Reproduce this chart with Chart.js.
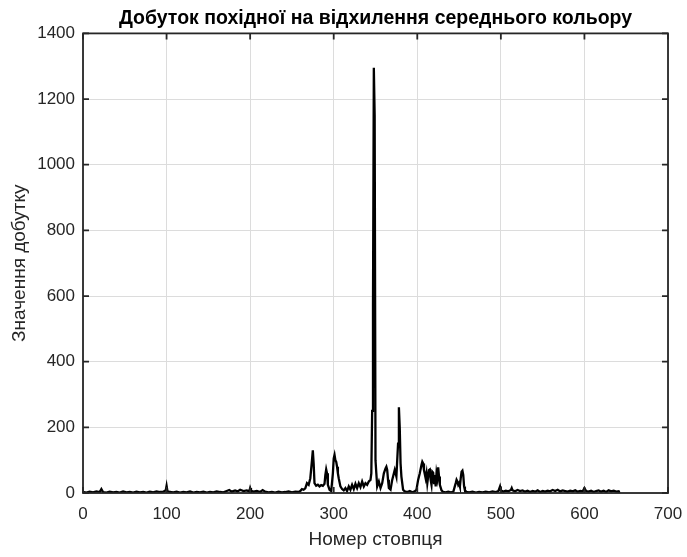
<!DOCTYPE html>
<html>
<head>
<meta charset="utf-8">
<script src="https://cdn.jsdelivr.net/npm/chart.js@4.4.1/dist/chart.umd.min.js"></script>
<style>
  html, body { margin: 0; padding: 0; background: #fff; }
  #wrap { width: 687px; height: 557px; }
</style>
</head>
<body>
<div id="wrap"><canvas id="productChart" width="687" height="557"></canvas></div>
<script>
// column index (x) and product value (y)
const columns = [
  1, 4, 8, 12, 16, 20, 22, 24, 28, 32, 36, 40, 44, 48, 52, 56, 60, 64, 68, 72, 76, 80, 84, 88, 92, 96, 99, 100, 101, 104,
  108, 112, 116, 120, 124, 128, 132, 136, 140, 144, 148, 152, 156, 160, 164, 168, 172, 175, 178, 182, 185, 188, 192, 196, 199, 200, 201, 204, 208, 212, 215, 218, 222, 226, 230, 234, 238, 242, 246, 250, 254, 258,
  260, 262, 264, 266, 268, 270, 272, 274, 275, 276, 277, 279, 281, 283, 285, 287, 289, 290, 291, 292, 293, 295, 297, 299, 300, 301, 302, 303, 304, 305, 306, 308, 310, 312, 314, 316, 318, 320, 322, 324, 326, 328, 330, 332, 334, 336, 338, 340, 342, 344, 345,
  346, 347, 348, 349, 350, 351, 352, 354, 356, 358, 360, 362, 363, 364, 365, 366, 368, 370, 372, 373, 375, 377, 378, 379, 380, 381, 383, 385, 388, 391, 394, 397, 399,
  401, 403, 405, 406, 407, 408, 410, 411, 412, 414, 415, 416, 417, 418, 419, 420, 421, 422, 423, 424, 425, 426, 427, 429, 431, 434, 437, 440, 443, 446, 447, 448, 449, 450, 451, 452, 453, 454, 455, 456, 457, 459,
  462, 466, 470, 474, 478, 482, 486, 490, 494, 497, 499, 500, 503, 506, 509, 512, 513, 514, 517, 520, 523, 526, 529, 532, 535, 538, 541, 544, 547, 550, 553, 556, 559, 562, 565, 568, 571, 574, 577, 580, 583, 586, 589, 592, 595, 598, 600, 602, 605, 608, 611, 614, 617, 620, 623, 626, 629, 632, 635, 638, 641, 642
];
const productValues = [
  3, 1, 4, 2, 5, 3, 12, 3, 1, 4, 2, 3, 1, 5, 2, 3, 1, 4, 2, 3, 1, 4, 2, 5, 3, 4, 8, 22, 6, 3,
  2, 4, 1, 3, 2, 5, 1, 3, 2, 4, 1, 3, 2, 5, 3, 2, 6, 9, 4, 8, 5, 10, 6, 8, 5, 15, 7, 4, 6, 3, 9, 4, 2, 3, 1, 4, 2, 3, 5, 2, 4, 3,
  6, 12, 10, 14, 30, 25, 45, 100, 130, 90, 30, 22, 25, 20, 24, 22, 28, 55, 72, 60, 25, 10, 6, 60, 105, 116, 100, 95, 80, 60, 45, 20, 12, 8, 15, 6, 20, 10, 25, 12, 28, 15, 30, 18, 35, 20, 30, 25, 35, 40, 60,
  250, 570, 1295, 1150, 100, 60, 20, 35, 15, 30, 60, 75, 80, 70, 40, 15, 10, 40, 60, 70, 50, 150, 261, 200, 90, 50, 10, 5, 3, 6, 2, 5, 10,
  40, 60, 85, 95, 90, 70, 45, 60, 30, 70, 72, 40, 25, 65, 62, 30, 55, 20, 60, 45, 78, 50, 25, 8, 3, 2, 4, 2, 3, 30, 40, 35, 25, 30, 20, 45, 65, 68, 55, 20, 8, 3,
  2, 4, 1, 3, 2, 4, 2, 5, 3, 6, 20, 8, 4, 7, 5, 9, 15, 8, 5, 9, 6, 8, 4, 7, 3, 6, 4, 8, 3, 6, 4, 7, 5, 9, 6, 10, 5, 8, 6, 4, 7, 5, 8, 4, 6, 5, 15, 6, 4, 7, 3, 6, 8, 4, 7, 3, 8, 5, 7, 4, 5, 0
];
const xTicks = [0, 100, 200, 300, 400, 500, 600, 700];
const yTicks = [0, 200, 400, 600, 800, 1000, 1200, 1400];

const chartTitle = 'Добуток похідної на відхилення середнього кольору';
const xTitle = 'Номер стовпця';
const yTitle = 'Значення добутку';

const FONT = "'Liberation Sans', Arial, sans-serif";
const AXIS_COLOR = '#262626';

// MATLAB-like box with inward ticks on all four sides
const boxPlugin = {
  id: 'box',
  afterDraw(chart) {
    const { ctx, chartArea: a, scales: { x, y } } = chart;
    ctx.save();
    ctx.strokeStyle = AXIS_COLOR;
    ctx.lineWidth = 1.8;
    ctx.strokeRect(a.left, a.top, a.right - a.left, a.bottom - a.top);
    ctx.beginPath();
    xTicks.forEach(v => {
      const px = x.getPixelForValue(v);
      ctx.moveTo(px, a.bottom); ctx.lineTo(px, a.bottom - 6);
      ctx.moveTo(px, a.top); ctx.lineTo(px, a.top + 6);
    });
    yTicks.forEach(v => {
      const py = y.getPixelForValue(v);
      ctx.moveTo(a.left, py); ctx.lineTo(a.left + 6, py);
      ctx.moveTo(a.right, py); ctx.lineTo(a.right - 6, py);
    });
    ctx.stroke();
    ctx.restore();
  }
};

const ctx = document.getElementById('productChart').getContext('2d');
const productChart = new Chart(ctx, {
  type: 'line',
  data: {
    datasets: [{
      data: columns.map((c, i) => ({ x: c, y: productValues[i] })),
      borderColor: '#000',
      borderWidth: 2.3,
      pointRadius: 0,
      tension: 0,
      fill: false
    }]
  },
  options: {
    responsive: false,
    animation: false,
    events: [],
    layout: { padding: { left: 0, right: 19, top: 0, bottom: 0 } },
    plugins: {
      legend: { display: false },
      tooltip: { enabled: false },
      title: {
        display: true, text: chartTitle, fullSize: false, color: '#000',
        font: { family: FONT, size: 19.5, weight: 'bold' },
        lineHeight: 1.2,
        padding: { top: 7, bottom: 3 }
      }
    },
    scales: {
      x: {
        type: 'linear', min: 0, max: 700,
        afterBuildTicks: s => { s.ticks = xTicks.map(v => ({ value: v })); },
        afterFit: s => { s.height = 64; s.paddingLeft = 0; s.paddingRight = 0; },
        ticks: { color: AXIS_COLOR, font: { family: FONT, size: 17 }, padding: 11, maxRotation: 0, callback: v => String(v) },
        grid: { color: '#dcdcdc', lineWidth: 1, drawTicks: false },
        border: { display: false },
        title: { display: true, text: xTitle, color: AXIS_COLOR, font: { family: FONT, size: 19 }, padding: { top: 4, bottom: 6 } }
      },
      y: {
        min: 0, max: 1400,
        afterBuildTicks: s => { s.ticks = yTicks.map(v => ({ value: v })); },
        afterFit: s => { s.width = 83; s.paddingTop = 0; s.paddingBottom = 0; },
        ticks: { color: AXIS_COLOR, font: { family: FONT, size: 17 }, padding: 8, callback: v => String(v) },
        grid: { color: '#dcdcdc', lineWidth: 1, drawTicks: false },
        border: { display: false },
        title: { display: true, text: yTitle, color: AXIS_COLOR, font: { family: FONT, size: 19 }, padding: { top: 8, bottom: 4 } }
      }
    }
  },
  plugins: [boxPlugin]
});
</script>
</body>
</html>
